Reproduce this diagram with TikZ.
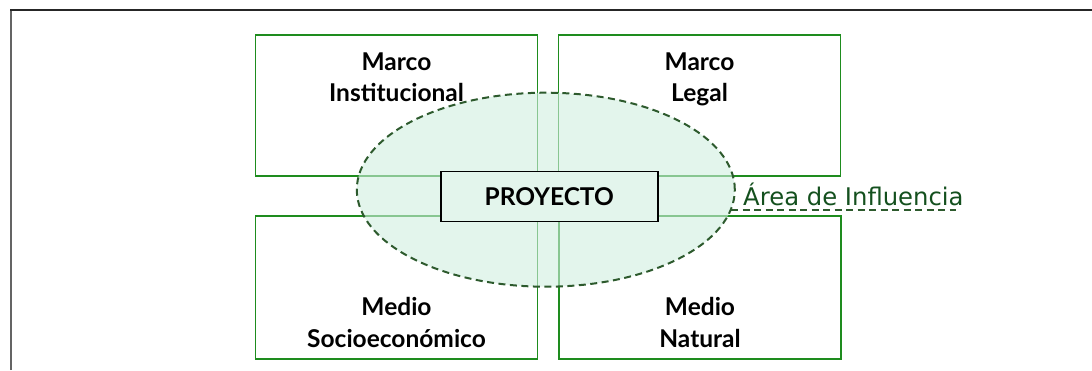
\documentclass[tikz,border=0pt]{standalone}
\usepackage{fontspec}
\usetikzlibrary{shapes.geometric}
\newfontfamily\boxfont{Lato}
\newfontfamily\dvfont{DejaVu Sans}
\definecolor{boxgreen}{RGB}{30,140,30}
\definecolor{ellfill}{RGB}{208,238,223}
\definecolor{solidfill}{RGB}{227,245,236}
\definecolor{dashgreen}{RGB}{45,90,45}
\definecolor{lblgreen}{RGB}{20,80,30}
\definecolor{framegray}{RGB}{100,100,100}
\tikzset{
  topicbox/.style={draw=boxgreen, line width=1.4pt, rectangle, inner sep=0pt, minimum width=282pt},
  topictext/.style={anchor=base, inner sep=0pt, font=\boxfont\bfseries\fontsize{24.5}{31.5}\selectfont},
  areaell/.style={ellipse, draw=dashgreen, line width=2pt, dash pattern=on 7pt off 4.5pt, fill=ellfill, fill opacity=0.6, draw opacity=1, inner sep=0pt, minimum width=378pt, minimum height=194pt},
  projbox/.style={draw=black, line width=1.4pt, fill=solidfill, rectangle, inner sep=0pt, minimum width=217pt, minimum height=50pt, font=\boxfont\bfseries\fontsize{24.5}{28}\selectfont},
  arealbl/.style={anchor=base west, inner sep=0pt, text=lblgreen, font=\dvfont\fontsize{24.3}{28}\selectfont},
  underl/.style={draw=dashgreen, line width=2pt, dash pattern=on 7pt off 4.5pt}
}
\newcommand{\twolines}[2]{{\setlength{\tabcolsep}{0pt}\begin{tabular}[t]{c}#1\\#2\end{tabular}}}
\begin{document}
\begin{tikzpicture}[x=1pt,y=-1pt]
\useasboundingbox (0,0) rectangle (1092,370);
% frame
\draw[framegray, line width=2pt] (11,370) -- (11,10);
\draw[black!85, line width=2.2pt] (10,10) -- (1092,10);
% boxes
\node[topicbox, minimum height=141pt] (tl) at (396.5,105.5) {};
\node[topicbox, minimum height=141pt] (tr) at (699.5,105.5) {};
\node[topicbox, minimum height=143pt] (bl) at (396.5,287.5) {};
\node[topicbox, minimum height=143pt] (br) at (700,287.5) {};
\node[topictext] (tlt) at (396.5,70) {\twolines{Marco}{Institucional}};
\node[topictext] (trt) at (699.5,70) {\twolines{Marco}{Legal}};
\node[topictext] (blt) at (396.5,315.5) {\twolines{Medio}{Socioeconómico}};
\node[topictext] (brt) at (700,315.5) {\twolines{Medio}{Natural}};
% influence area
\node[areaell] (area) at (545.8,189.7) {};
\node[projbox] (proj) at (549.3,196.2) {PROYECTO};
\node[arealbl] (albl) at (743,205) {Área de Influencia};
\coordinate (u1) at (731,210);
\coordinate (u2) at (956,210);
\draw[underl] (u1) -- (u2);
\end{tikzpicture}
\end{document}
